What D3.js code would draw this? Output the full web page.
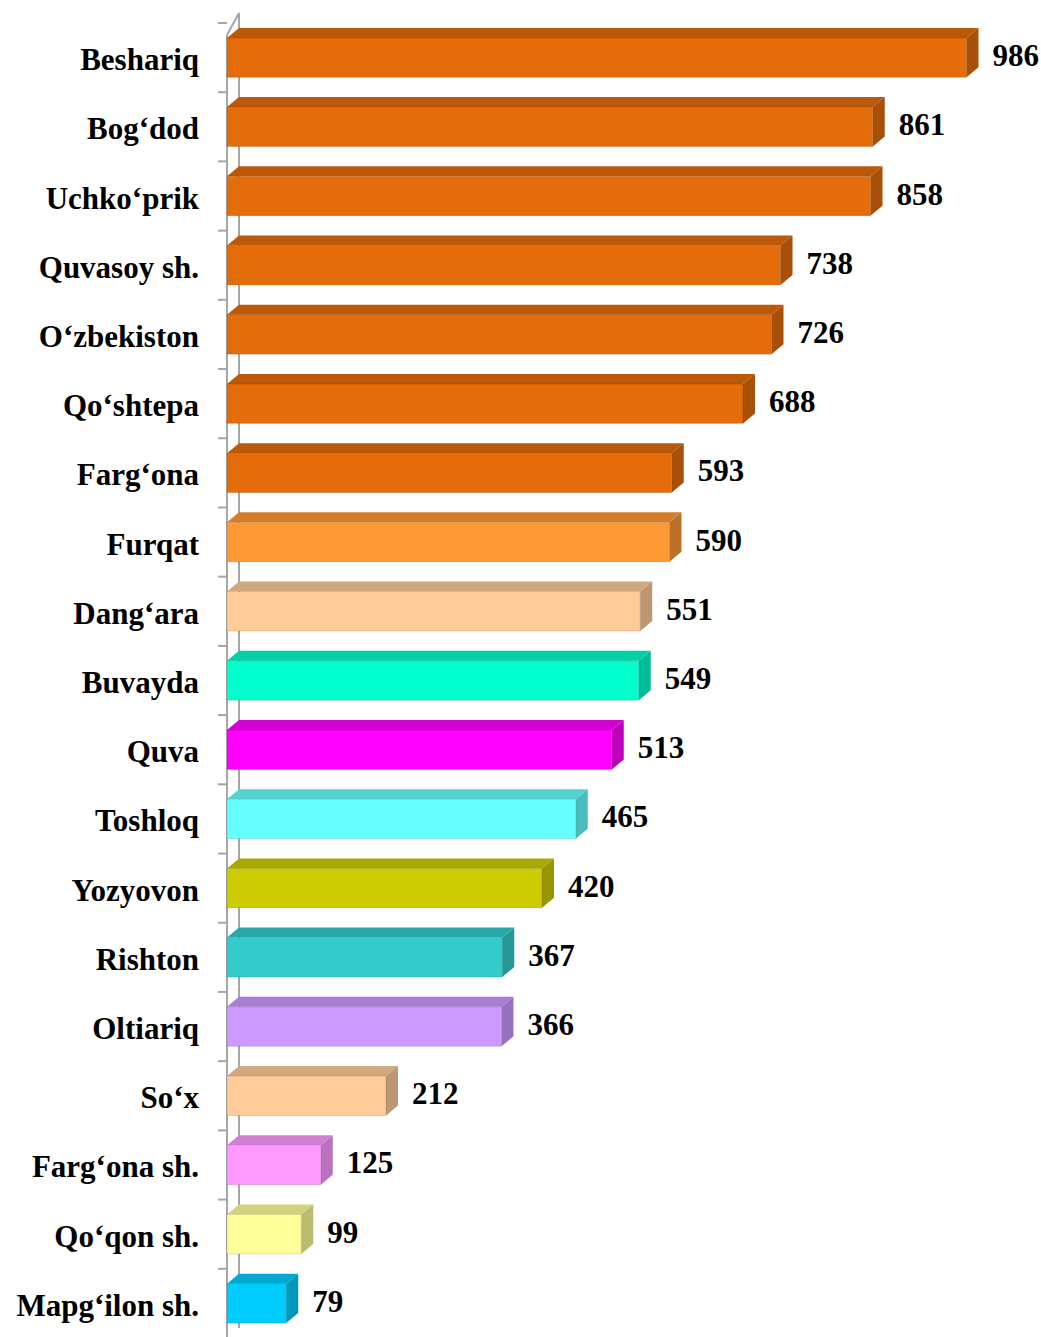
<!DOCTYPE html>
<html>
<head>
<meta charset="utf-8">
<script src="https://cdn.jsdelivr.net/npm/d3@7/dist/d3.min.js"></script>
<style>
  html, body { margin: 0; padding: 0; background: #ffffff; }
  svg { display: block; }
</style>
</head>
<body>
<div id="chart"></div>
<script>
const categories = ["Beshariq","Bog\u2018dod","Uchko\u2018prik","Quvasoy sh.","O\u2018zbekiston","Qo\u2018shtepa","Farg\u2018ona","Furqat","Dang\u2018ara","Buvayda","Quva","Toshloq","Yozyovon","Rishton","Oltiariq","So\u2018x","Farg\u2018ona sh.","Qo\u2018qon sh.","Mapg\u2018ilon sh."];
const values = [986,861,858,738,726,688,593,590,551,549,513,465,420,367,366,212,125,99,79];
const barColors = ["#E46C0A","#E46C0A","#E46C0A","#E46C0A","#E46C0A","#E46C0A","#E46C0A","#FF9933","#FFCC99","#00FFCC","#FF00FF","#66FFFF","#CCCC00","#33CCCC","#CC99FF","#FFCC99","#FF99FF","#FFFF99","#00CCFF"];

(function () {
const W = 1041, H = 1337;
const depthX = 12, depthY = 10;
const x0 = 227;

const svg = d3.select("#chart").append("svg")
  .attr("width", W).attr("height", H)
  .attr("font-family", "'Liberation Serif','Times New Roman',serif");

const x = d3.scaleLinear().domain([0, 1000]).range([x0, x0 + 750]);
const y = d3.scaleBand().domain(categories).range([23, 1338])
  .paddingInner(0.43).paddingOuter(0.215);

const step = y.step();
const yTop = y.range()[0], yBottom = y.range()[1];

// left wall (3D axis)
const axisColor = "#A6A6A6";
const wall = svg.append("g").attr("stroke", axisColor).attr("stroke-width", 2).attr("fill", "none");
wall.append("line").attr("x1", x0).attr("x2", x0).attr("y1", yTop + 12).attr("y2", yBottom);
wall.append("line").attr("x1", x0 + depthX).attr("x2", x0 + depthX).attr("y1", yTop - depthY).attr("y2", yBottom - depthY);
wall.append("line").attr("x1", x0).attr("x2", x0 + depthX).attr("y1", yTop + 12).attr("y2", yTop - depthY);
// ticks
categories.forEach((c, i) => {
  wall.append("line").attr("x1", x0 - 9).attr("x2", x0).attr("y1", yTop + i * step).attr("y2", yTop + i * step);
});

// bars
const bars = svg.append("g");
categories.forEach((c, i) => {
  const v = values[i];
  const col = d3.color(barColors[i]);
  const xl = x(0), xr = x(v);
  const yt = y(c), yb = y(c) + y.bandwidth();
  const g = bars.append("g");
  // top face
  g.append("path")
    .attr("d", `M${xl},${yt} L${xl + depthX},${yt - depthY} L${xr + depthX},${yt - depthY} L${xr},${yt} Z`)
    .attr("fill", col.darker(0.55).formatHex());
  // side face
  g.append("path")
    .attr("d", `M${xr},${yt} L${xr + depthX},${yt - depthY} L${xr + depthX},${yb - depthY} L${xr},${yb} Z`)
    .attr("fill", col.darker(0.85).formatHex());
  // front face
  g.append("rect")
    .attr("x", xl).attr("y", yt)
    .attr("width", xr - xl).attr("height", yb - yt)
    .attr("fill", col.formatHex())
    .attr("stroke", "rgba(0,0,0,0.12)").attr("stroke-width", 1);
  // value label
  svg.append("text")
    .attr("x", xr + depthX + 14)
    .attr("y", (yt + yb) / 2 - 2)
    .attr("dominant-baseline", "central")
    .attr("font-size", 31).attr("font-weight", "bold").attr("fill", "#000")
    .text(v);
});

// category labels
const yAxis = svg.append("g");
categories.forEach((c) => {
  yAxis.append("text")
    .attr("x", 199)
    .attr("y", y(c) + y.bandwidth() / 2 + 2)
    .attr("dominant-baseline", "central")
    .attr("text-anchor", "end")
    .attr("font-size", 31).attr("font-weight", "bold").attr("fill", "#000")
    .text(c);
});
})();
</script>
</body>
</html>
